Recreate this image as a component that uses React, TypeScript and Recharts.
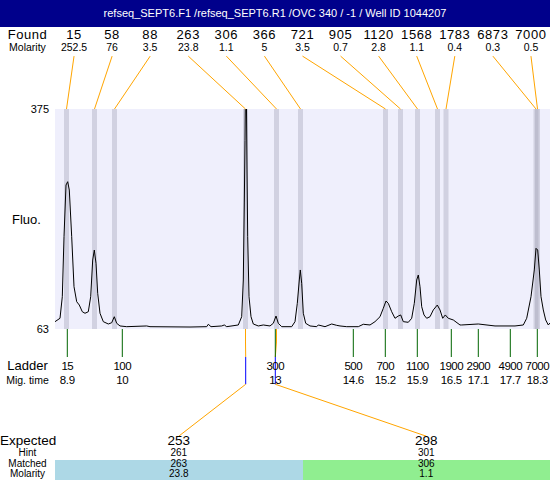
import React from 'react';
import { LineChart, Line, XAxis, YAxis, ReferenceArea, ReferenceLine } from 'recharts';

// migration time window shown on the x axis (min)
const X_MIN = 8.654;
const X_MAX = 18.554;
const Y_MIN = 63;
const Y_MAX = 375;

const title = 'refseq_SEPT6.F1 /refseq_SEPT6.R1 /OVC 340 / -1 / Well ID 1044207';

// peaks found in the sample
const foundSizes = [15, 58, 88, 263, 306, 366, 721, 905, 1120, 1568, 1783, 6873, 7000];
const foundMolarity = ['252.5', '76', '3.5', '23.8', '1.1', '5', '3.5', '0.7', '2.8', '1.1', '0.4', '0.3', '0.5'];
const foundTimes = [8.884, 9.444, 9.844, 12.464, 13.084, 13.564, 15.264, 15.564, 15.904, 16.304, 16.474, 18.274, 18.304];

// ladder
const ladderSizes = [15, 100, 300, 500, 700, 1100, 1900, 2900, 4900, 7000];
const ladderMigLabels = ['8.9', '10', '13', '14.6', '15.2', '15.9', '16.5', '17.1', '17.7', '18.3'];
const ladderTimes = [8.9, 10.0, 13.06, 14.62, 15.26, 15.9, 16.58, 17.12, 17.76, 18.3];

// expected fragments
const expectedSizes = [253, 298];
const expectedHint = [261, 301];
const expectedMatched = [263, 306];
const expectedMolarity = ['23.8', '1.1'];
const expectedTimes = [12.468, 13.06];
const expectedPeak = [3, 4];
const expectedColors = ['#add8e6', '#90ee90'];

// electropherogram trace: [migration time, fluorescence]
const trace: [number, number][] = [
  [8.654, 73.4], [8.754, 78.2], [8.8, 108.8], [8.834, 193.9], [8.874, 267.2], [8.908, 271.9],
  [8.94, 260.1], [8.988, 193.9], [9.034, 123], [9.088, 101.7], [9.14, 97], [9.2, 87.5],
  [9.254, 85.3], [9.32, 87.5], [9.368, 108.8], [9.408, 160.8], [9.44, 175], [9.474, 156.2],
  [9.508, 113.6], [9.554, 85.3], [9.62, 73.4], [9.72, 70.1], [9.788, 71.9], [9.84, 80.4],
  [9.888, 71.1], [9.954, 67.3], [10.088, 66.3], [10.488, 67.3], [10.554, 66.3], [11.354, 65.8],
  [11.688, 66.3], [11.72, 69.7], [11.774, 66.3], [11.988, 67.3], [12.04, 68.7], [12.088, 66.3],
  [12.32, 68.7], [12.388, 80.4], [12.42, 132.5], [12.44, 241.7], [12.454, 330], [12.468, 440],
  [12.48, 410], [12.494, 288.5], [12.508, 193.9], [12.534, 108.8], [12.574, 80.4], [12.62, 70.1],
  [12.72, 67.3], [12.82, 68.7], [12.954, 67.3], [13.02, 71.1], [13.074, 81.4], [13.12, 71.1],
  [13.188, 66.3], [13.388, 66.3], [13.454, 73.4], [13.5, 99.4], [13.54, 132.5], [13.56, 146.7],
  [13.588, 127.8], [13.62, 85.3], [13.668, 71.1], [13.754, 67.3], [13.888, 66.3], [13.92, 68.7],
  [14.054, 66.3], [14.188, 70.1], [14.288, 68.2], [14.354, 67.3], [14.488, 66.3], [14.72, 66.3],
  [14.82, 69.7], [14.954, 68.7], [15.054, 73.4], [15.154, 80.4], [15.22, 92.4], [15.274, 102.7],
  [15.32, 99.4], [15.388, 87.5], [15.454, 78.2], [15.52, 81.4], [15.568, 82.9], [15.62, 73.4],
  [15.72, 72.5], [15.788, 78.2], [15.84, 99.4], [15.888, 132.5], [15.92, 139.6], [15.954, 123],
  [15.988, 94.6], [16.034, 82.9], [16.088, 78.2], [16.154, 80.4], [16.22, 90], [16.3, 97],
  [16.354, 90], [16.408, 78.2], [16.46, 82.9], [16.52, 78.2], [16.62, 75.8], [16.754, 68.7],
  [16.788, 68.7], [17.12, 70.1], [17.454, 67.3], [17.854, 67.3], [18.02, 68.7], [18.088, 78.2],
  [18.174, 108.8], [18.24, 146.7], [18.274, 177.4], [18.308, 175], [18.34, 146.7], [18.374, 108.8],
  [18.42, 90], [18.468, 75.8], [18.52, 68.7], [18.554, 71.5],
];

// annotation levels, in fluorescence units (outside the plotted range)
const CONNECT_TOP = 450;
const DROP_BEND = 44.6;
const DROP_END = 23.3;
const HINT_END = -15.4;
const EXPECTED_LEVEL = -89;

const FONT = '"Liberation Sans", Arial, sans-serif';
const ORANGE = '#ffa500';
const GREEN = '#006400';

const PLOT_LEFT = 55;
const PLOT_W = 495;

const data = trace.map(([t, fluo]) => ({ t, fluo }));

// centre of the i-th of n equal columns across the x window
const columnTime = (i: number, n: number) => X_MIN + ((i + 0.5) * (X_MAX - X_MIN)) / n;

function LadderTick(props: any) {
  const { x, y, payload } = props;
  let i = ladderTimes.indexOf(payload.value);
  if (i < 0) i = payload.index;
  return (
    <g>
      <line x1={x} x2={x} y1={y} y2={y + 28} stroke={GREEN} strokeWidth={1} />
      <text x={x} y={y + 37} textAnchor="middle" dominantBaseline="central" fontSize={11.5} letterSpacing={-0.5} fill="#000" fontFamily={FONT}>
        {ladderSizes[i]}
      </text>
      <text x={x} y={y + 51} textAnchor="middle" dominantBaseline="central" fontSize={11.5} letterSpacing={-0.3} fill="#000" fontFamily={FONT}>
        {ladderMigLabels[i]}
      </text>
    </g>
  );
}

function Txt({ x, w, cy, size, children, spacing = 0, h }: any) {
  const bh = h ?? Math.ceil(size * 1.1);
  return (
    <div
      style={{
        position: 'absolute',
        left: x,
        width: w,
        top: cy - bh / 2,
        height: bh,
        lineHeight: bh + 'px',
        textAlign: 'center',
        fontSize: size,
        letterSpacing: spacing,
        whiteSpace: 'nowrap',
        color: '#000',
      }}
    >
      {children}
    </div>
  );
}

export default function App() {
  const foundW = PLOT_W / foundSizes.length;
  const expW = PLOT_W / expectedSizes.length;
  return (
    <div style={{ position: 'absolute', left: 0, top: 0, width: 550, height: 480, background: '#fff', fontFamily: FONT, overflow: 'hidden' }}>
      <LineChart width={550} height={480} data={data} margin={{ top: 109, right: 0, bottom: 121, left: 0 }}>
        <XAxis
          dataKey="t"
          type="number"
          domain={[X_MIN, X_MAX]}
          allowDataOverflow
          ticks={ladderTimes}
          interval={0}
          height={30}
          axisLine={false}
          tickLine={false}
          tickSize={0}
          tickMargin={0}
          tick={<LadderTick />}
        />
        <YAxis
          type="number"
          domain={[Y_MIN, Y_MAX]}
          allowDataOverflow
          ticks={[Y_MIN, Y_MAX]}
          width={55}
          axisLine={false}
          tickLine={false}
          tickSize={4}
          tickMargin={2}
          tick={{ fill: '#000', fontSize: 11, fontFamily: FONT }}
          label={{ value: 'Fluo.', position: 'insideLeft', offset: 12, fill: '#000', fontSize: 13, fontFamily: FONT }}
        />
        <ReferenceArea x1={X_MIN} x2={X_MAX} y1={Y_MIN} y2={Y_MAX} fill="#efeffc" fillOpacity={1} />
        {foundTimes.map((t, i) => (
          <ReferenceArea key={'b' + i} x1={t - 0.05} x2={t + 0.05} y1={Y_MIN} y2={Y_MAX} fill="#9a9ab0" fillOpacity={0.35} />
        ))}
        <Line type="linear" dataKey="fluo" stroke="#000" strokeWidth={1} dot={false} isAnimationActive={false} />
        {foundTimes.map((t, i) => (
          <ReferenceLine
            key={'c' + i}
            segment={[{ x: columnTime(i, foundSizes.length), y: CONNECT_TOP }, { x: t, y: Y_MAX }]}
            stroke={ORANGE}
            strokeWidth={1}
            ifOverflow="visible"
          />
        ))}
        {expectedTimes.map((t, j) => {
          const pt = foundTimes[expectedPeak[j]];
          return [
            <ReferenceLine key={'e1' + j} segment={[{ x: pt, y: Y_MIN }, { x: pt, y: DROP_BEND }]} stroke={ORANGE} ifOverflow="visible" />,
            <ReferenceLine key={'e2' + j} segment={[{ x: pt, y: DROP_BEND }, { x: t, y: DROP_END }]} stroke={ORANGE} ifOverflow="visible" />,
            <ReferenceLine key={'e3' + j} segment={[{ x: t, y: DROP_END }, { x: t, y: HINT_END }]} stroke="#0000ff" ifOverflow="visible" />,
            <ReferenceLine
              key={'e4' + j}
              segment={[{ x: t, y: HINT_END }, { x: columnTime(j, expectedSizes.length), y: EXPECTED_LEVEL }]}
              stroke={ORANGE}
              ifOverflow="visible"
            />,
          ];
        })}
      </LineChart>

      <div
        style={{
          position: 'absolute',
          left: 0,
          top: 0,
          width: 550,
          height: 27,
          background: '#00008b',
          color: '#fff',
          fontSize: 11,
          lineHeight: '27px',
          textAlign: 'center',
          whiteSpace: 'nowrap',
        }}
      >
        {title}
      </div>

      <Txt x={0} w={PLOT_LEFT} cy={34.5} size={13} spacing={0.5}>Found</Txt>
      <Txt x={0} w={PLOT_LEFT} cy={46.5} size={10.5}>Molarity</Txt>
      {foundSizes.map((s, i) => (
        <Txt key={'f' + i} x={PLOT_LEFT + i * foundW} w={foundW} cy={34.5} size={13} spacing={0.6}>{s}</Txt>
      ))}
      {foundMolarity.map((m, i) => (
        <Txt key={'m' + i} x={PLOT_LEFT + i * foundW} w={foundW} cy={46.5} size={10.5}>{m}</Txt>
      ))}

      <Txt x={0} w={PLOT_LEFT} cy={365.6} size={13}>Ladder</Txt>
      <Txt x={0} w={PLOT_LEFT} cy={379.6} size={10.5}>Mig. time</Txt>

      {expectedColors.map((c, j) => (
        <div key={'bg' + j} style={{ position: 'absolute', left: PLOT_LEFT + j * expW, width: expW, top: 460, height: 20, background: c }} />
      ))}
      <Txt x={0} w={PLOT_LEFT} cy={441} size={13.5} h={14}>Expected</Txt>
      <Txt x={0} w={PLOT_LEFT} cy={453} size={10} h={10}>Hint</Txt>
      <Txt x={0} w={PLOT_LEFT} cy={463.5} size={10} h={10}>Matched</Txt>
      <Txt x={0} w={PLOT_LEFT} cy={474} size={10} h={10}>Molarity</Txt>
      {expectedSizes.map((s, j) => (
        <React.Fragment key={'x' + j}>
          <Txt x={PLOT_LEFT + j * expW} w={expW} cy={441} size={13.5} h={14}>{s}</Txt>
          <Txt x={PLOT_LEFT + j * expW} w={expW} cy={453} size={10} h={10}>{expectedHint[j]}</Txt>
          <Txt x={PLOT_LEFT + j * expW} w={expW} cy={463.5} size={10} h={10}>{expectedMatched[j]}</Txt>
          <Txt x={PLOT_LEFT + j * expW} w={expW} cy={474} size={10} h={10}>{expectedMolarity[j]}</Txt>
        </React.Fragment>
      ))}
    </div>
  );
}
